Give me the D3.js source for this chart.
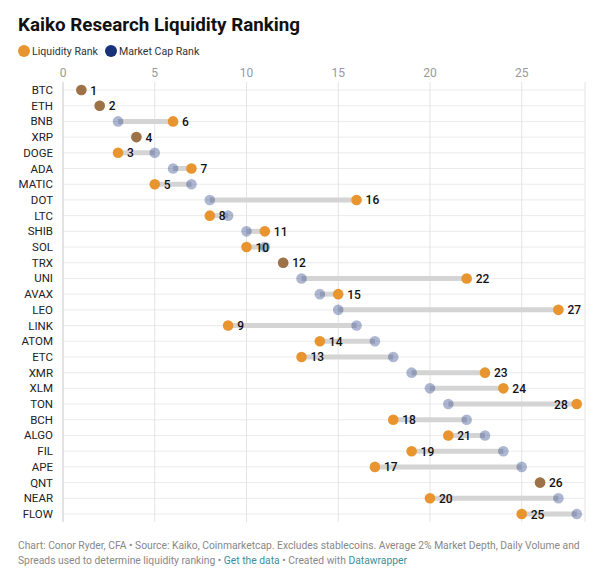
<!DOCTYPE html>
<html><head><meta charset="utf-8">
<script src="https://cdn.jsdelivr.net/npm/d3@7"></script>
<style>body{margin:0;background:#fff;font-family:Roboto,"Noto Sans",sans-serif;}</style>
</head><body><svg id="c" width="600" height="571"></svg>
<script>
const coins = ["BTC","ETH","BNB","XRP","DOGE","ADA","MATIC","DOT","LTC","SHIB","SOL","TRX","UNI","AVAX","LEO","LINK","ATOM","ETC","XMR","XLM","TON","BCH","ALGO","FIL","APE","QNT","NEAR","FLOW"];
const liquidityRank = [1,2,6,4,3,7,5,16,8,11,10,12,22,15,27,9,14,13,23,24,28,18,21,19,17,26,20,25];
const marketCapRank = [1,2,3,4,5,6,7,8,9,10,11,12,13,14,15,16,17,18,19,20,21,22,23,24,25,26,27,28];
const xTicks = [0,5,10,15,20,25];

const svg = d3.select("#c");
const x = d3.scaleLinear().domain([0,28.45]).range([63,585]);
const y = d3.scalePoint().domain(coins).range([90,514]);

svg.append("text").attr("x",18).attr("y",31).attr("font-size",18.8).attr("font-weight",700)
  .attr("fill","#111").text("Kaiko Research Liquidity Ranking");
const lg = svg.append("g").attr("font-size",10.6).attr("fill","#333");
lg.append("circle").attr("cx",24).attr("cy",51).attr("r",6).attr("fill","#e8952f");
lg.append("text").attr("x",32).attr("y",55).text("Liquidity Rank");
lg.append("circle").attr("cx",111).attr("cy",51).attr("r",6).attr("fill","#15327a");
lg.append("text").attr("x",119).attr("y",55).text("Market Cap Rank");

// grid
const g = svg.append("g");
g.selectAll("line.h").data(coins).join("line").attr("x1",63).attr("x2",585)
  .attr("y1",d=>y(d)).attr("y2",d=>y(d)).attr("stroke","#ebebeb").attr("stroke-width",1);
g.selectAll("line.v").data(xTicks.slice(1)).join("line").attr("x1",d=>x(d)).attr("x2",d=>x(d))
  .attr("y1",82).attr("y2",522).attr("stroke","#e4e4e4");
g.append("line").attr("x1",585).attr("x2",585).attr("y1",82).attr("y2",522).attr("stroke","#e4e4e4");
g.append("line").attr("x1",x(0)).attr("x2",x(0)).attr("y1",82).attr("y2",522).attr("stroke","#c8c8c8");
g.selectAll("text.t").data(xTicks).join("text").attr("x",d=>x(d)).attr("y",77)
  .attr("text-anchor","middle").attr("font-size",12).attr("fill","#999").text(d=>d);
g.selectAll("text.c").data(coins).join("text").attr("x",53).attr("y",d=>y(d)+4)
  .attr("text-anchor","end").attr("font-size",11.5).attr("fill","#222").text(d=>d);

const rows = coins.map((c,i)=>({c,l:liquidityRank[i],m:marketCapRank[i]}));
svg.selectAll("line.r").data(rows).join("line")
  .attr("x1",d=>x(d.l)).attr("x2",d=>x(d.m)).attr("y1",d=>y(d.c)).attr("y2",d=>y(d.c))
  .attr("stroke","#d4d4d4").attr("stroke-width",5);
svg.selectAll("circle.l").data(rows).join("circle")
  .attr("cx",d=>x(d.l)).attr("cy",d=>y(d.c)).attr("r",5.3).attr("fill","#e8952f");
svg.selectAll("circle.m").data(rows).join("circle")
  .attr("cx",d=>x(d.m)).attr("cy",d=>y(d.c)).attr("r",5.3).attr("fill","#15327a").attr("fill-opacity",0.35);
svg.selectAll("text.v").data(rows).join("text")
  .attr("x",d=> d.l>=28 ? x(d.l)-9 : x(d.l)+9)
  .attr("text-anchor",d=> d.l>=28 ? "end":"start")
  .attr("y",d=>y(d.c)+4.5).attr("font-size",12).attr("font-weight",500).attr("fill","#111")
  .text(d=>d.l);

const f = svg.append("g").attr("font-size",10.3).attr("fill","#888");
f.append("text").attr("x",18).attr("y",549).text("Chart: Conor Ryder, CFA • Source: Kaiko, Coinmarketcap. Excludes stablecoins. Average 2% Market Depth, Daily Volume and");
const t2 = f.append("text").attr("x",18).attr("y",564);
t2.append("tspan").text("Spreads used to determine liquidity ranking • ");
t2.append("tspan").attr("fill","#3a8f9a").text("Get the data");
t2.append("tspan").text(" • Created with ");
t2.append("tspan").attr("fill","#3a8f9a").text("Datawrapper");
</script></body></html>
